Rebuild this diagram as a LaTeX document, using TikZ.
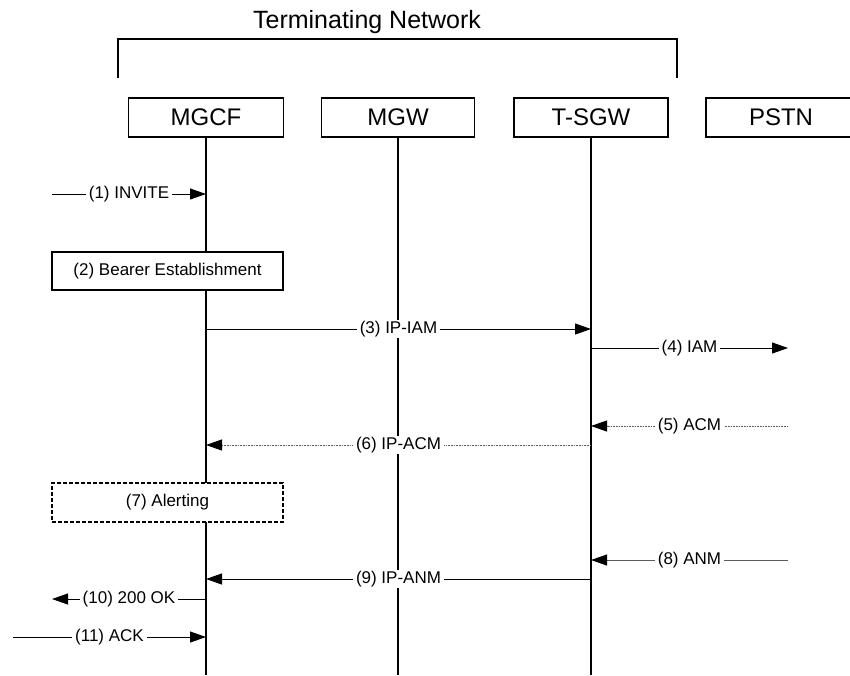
\documentclass[tikz,border=0pt]{standalone}
\usepackage{fontspec}
\setmainfont{Liberation Sans}
\usetikzlibrary{arrows.meta,positioning,calc}
\definecolor{msggray}{HTML}{5A5A5A}
\tikzset{
  entitybox/.style={
    draw, line width=1.2pt, fill=white,
    minimum height=39pt, inner sep=0pt,
    font=\fontsize{24}{28}\selectfont
  },
  actionbox/.style={
    draw, line width=1.2pt, fill=white,
    minimum width=231pt, minimum height=38pt, inner sep=0pt,
    font=\fontsize{17}{20}\selectfont
  },
  lifeline/.style={line width=1.4pt},
  msgline/.style={line width=1pt, -{Triangle[length=16pt,width=11pt,color=black]}},
  greyline/.style={msgline, draw=msggray},
  dotline/.style={msgline, draw=msggray, dash pattern=on 1pt off 0.6pt},
  msglabel/.style={
    fill=white, text=black, inner xsep=3pt, inner ysep=1pt,
    font=\fontsize{17}{20}\selectfont
  }
}
\begin{document}
\begin{tikzpicture}[x=1pt,y=-1pt]
  \useasboundingbox (0,0) rectangle (850,675);

  % network bracket
  \node[anchor=base,font=\fontsize{25}{28}\selectfont] (netname) at (367,28) {Terminating Network};
  \coordinate (brL) at (118,78);
  \coordinate (brR) at (677,78);
  \draw[line width=1.2pt] (brL) -- ++(0,-39) -| (brR);

  % entities
  \node[entitybox,minimum width=155pt] (mgcf) at (206,117.5) {MGCF};
  \node[entitybox,minimum width=153pt] (mgw)  at (398,117.5) {MGW};
  \node[entitybox,minimum width=154pt] (tsgw) at (591,117.5) {T-SGW};
  \node[entitybox,minimum width=150pt] (pstn) at (781,117.5) {PSTN};

  % lifelines
  \foreach \ent in {mgcf,mgw,tsgw}
    \draw[lifeline] (\ent.south) -- (\ent.south |- 0,675);

  % outside end points
  \coordinate (inviteL) at (52,194);
  \coordinate (iamR)    at (788,348);
  \coordinate (acmR)    at (788,426);
  \coordinate (anmR)    at (788,560);
  \coordinate (okL)     at (52,599);
  \coordinate (ackL)    at (13,637);

  % (1)
  \draw[msgline] (inviteL) -- node[msglabel] {(1) INVITE} (mgcf.south |- inviteL);
  % (2)
  \node[actionbox] (bearer) at (167.5,271) {(2) Bearer Establishment};
  % (3), (4)
  \draw[msgline] (mgcf.south |- 0,329) -- node[msglabel] {(3) IP-IAM} (tsgw.south |- 0,329);
  \draw[msgline] (tsgw.south |- iamR) -- node[msglabel] {(4) IAM} (iamR);
  % (5), (6)
  \draw[dotline] (acmR) -- node[msglabel] {(5) ACM} (tsgw.south |- acmR);
  \draw[dotline] (tsgw.south |- 0,445) -- node[msglabel] {(6) IP-ACM} (mgcf.south |- 0,445);
  % (7)
  \node[actionbox,dash pattern=on 4pt off 2pt,minimum height=39pt] (alert) at (167.5,502.5) {(7) Alerting};
  % (8), (9)
  \draw[greyline] (anmR) -- node[msglabel] {(8) ANM} (tsgw.south |- anmR);
  \draw[msgline] (tsgw.south |- 0,579) -- node[msglabel] {(9) IP-ANM} (mgcf.south |- 0,579);
  % (10), (11)
  \draw[msgline] (mgcf.south |- okL) -- node[msglabel] {(10) 200 OK} (okL);
  \draw[msgline] (ackL) -- node[msglabel] {(11) ACK} (mgcf.south |- ackL);
\end{tikzpicture}
\end{document}
